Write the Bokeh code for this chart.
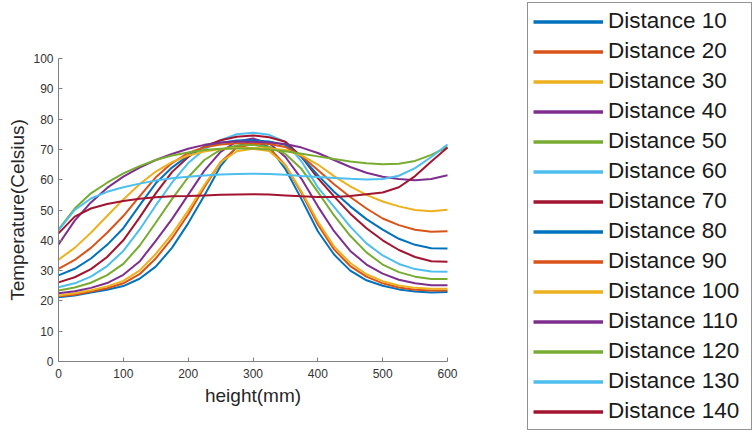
from bokeh.plotting import figure
from bokeh.models import Range1d, Legend, LegendItem
from bokeh.embed import file_html
from bokeh.resources import INLINE

height_mm = list(range(0, 601, 25))
x_ticks = [0, 100, 200, 300, 400, 500, 600]
y_ticks = [0, 10, 20, 30, 40, 50, 60, 70, 80, 90, 100]
distances = [10, 20, 30, 40, 50, 60, 70, 80, 90, 100, 110, 120, 130, 140]

t_d10 = [21.2, 21.8, 22.8, 23.7, 24.9, 27.3, 31.3, 37.5, 45.6, 54.8, 64.5, 71.0, 72.8,
         70.8, 63.5, 53.5, 43.0, 35.3, 30.0, 26.8, 25.0, 23.8, 23.1, 22.8, 22.9]
t_d20 = [21.5, 22.0, 23.1, 24.2, 25.8, 28.8, 34.0, 40.6, 48.5, 57.5, 65.8, 70.6, 71.7,
         70.5, 64.8, 55.5, 45.2, 37.0, 31.5, 28.0, 25.8, 24.4, 23.7, 23.4, 23.4]
t_d30 = [21.8, 22.5, 23.5, 24.8, 26.6, 30.0, 35.5, 42.0, 49.8, 58.2, 65.8, 69.4, 70.2,
         69.5, 64.8, 56.0, 46.2, 38.0, 32.5, 28.8, 26.5, 25.1, 24.3, 24.0, 24.0]
t_d40 = [22.5, 23.2, 24.3, 25.9, 28.6, 33.0, 39.8, 47.0, 55.0, 63.0, 69.2, 72.6, 73.6,
         72.0, 67.5, 60.2, 51.2, 43.0, 36.5, 32.0, 29.0, 27.0, 25.8, 25.2, 25.2]
t_d50 = [23.4, 24.4, 26.0, 28.5, 32.2, 38.2, 45.8, 53.6, 60.8, 66.5, 69.9, 71.3, 71.5,
         70.8, 68.5, 63.5, 56.0, 48.2, 41.5, 36.0, 32.0, 29.5, 28.0, 27.2, 27.2]
t_d60 = [24.5, 25.8, 28.0, 31.5, 36.5, 43.5, 51.5, 59.0, 65.5, 70.0, 73.0, 75.0, 75.5,
         74.8, 72.5, 66.0, 57.5, 51.0, 44.5, 39.0, 35.0, 32.2, 30.5, 29.7, 29.6]
t_d70 = [26.1, 27.8, 30.5, 34.5, 40.0, 47.5, 55.5, 62.5, 67.5, 71.0, 73.0, 74.2, 74.6,
         74.0, 72.5, 67.5, 60.5, 54.5, 48.8, 44.0, 40.0, 36.8, 34.5, 33.1, 32.9]
t_d80 = [28.4, 30.6, 34.0, 38.5, 44.0, 51.5, 58.8, 64.0, 68.0, 70.8, 72.2, 72.9, 73.0,
         72.6, 71.5, 67.5, 61.5, 56.0, 51.2, 47.0, 43.5, 40.5, 38.5, 37.4, 37.3]
t_d90 = [30.6, 33.5, 37.5, 42.5, 48.0, 54.5, 60.8, 65.5, 68.8, 70.7, 71.6, 72.0, 72.0,
         71.8, 70.8, 67.8, 63.2, 58.5, 54.3, 50.5, 47.2, 45.0, 43.5, 42.8, 43.0]
t_d100 = [33.6, 37.5, 42.5, 48.0, 53.5, 58.5, 62.7, 65.8, 68.0, 69.3, 70.1, 70.5, 70.5,
          70.3, 69.8, 68.0, 65.0, 61.2, 57.8, 55.0, 52.8, 51.2, 50.0, 49.6, 50.1]
t_d110 = [38.6, 46.5, 52.5, 57.3, 61.0, 64.0, 66.5, 68.5, 70.2, 71.5, 72.3, 72.6, 72.5,
          72.3, 71.8, 70.6, 68.8, 66.5, 64.2, 62.3, 61.0, 60.2, 59.8, 60.2, 61.5]
t_d120 = [43.5, 50.5, 55.5, 59.0, 62.1, 64.5, 66.5, 68.0, 69.0, 69.8, 70.2, 70.3, 70.3,
          70.0, 69.4, 68.6, 67.7, 66.8, 66.0, 65.4, 65.1, 65.3, 66.2, 68.2, 70.8]
t_d130 = [43.3, 50.0, 53.8, 56.0, 57.5, 58.7, 59.7, 60.5, 61.0, 61.4, 61.7, 61.9, 62.0,
          61.9, 61.6, 61.2, 60.9, 60.6, 60.3, 60.1, 60.2, 61.3, 63.8, 67.5, 71.6]
t_d140 = [42.3, 47.8, 50.5, 52.0, 53.0, 53.7, 54.2, 54.5, 54.6, 54.8, 55.0, 55.1, 55.2,
          55.1, 54.8, 54.5, 54.3, 54.3, 54.6, 55.2, 55.8, 57.5, 61.2, 66.0, 70.6]

series = [t_d10, t_d20, t_d30, t_d40, t_d50, t_d60, t_d70,
          t_d80, t_d90, t_d100, t_d110, t_d120, t_d130, t_d140]
palette = ["#0072BD", "#D95319", "#EDB120", "#7E2F8E", "#77AC30", "#4DBEEE", "#A2142F"]

FONT = "Liberation Sans"

# canvas geometry (pixels): the frame covers the whole canvas, the axes sit at fixed places
W, H = 753, 434
AX_LEFT, AX_RIGHT = 58, 447      # pixel columns of x = 0 and x = 600
AX_BOTTOM, AX_TOP = 361, 58      # pixel rows of T = 0 and T = 100
X_MIN, X_MAX = x_ticks[0], x_ticks[-1]
Y_MIN, Y_MAX = y_ticks[0], y_ticks[-1]
kx = (X_MAX - X_MIN) / (AX_RIGHT - AX_LEFT)
ky = (Y_MAX - Y_MIN) / (AX_BOTTOM - AX_TOP)
x_range = Range1d(X_MIN - AX_LEFT * kx, X_MAX + (W - AX_RIGHT) * kx)
y_range = Range1d(Y_MIN - (H - AX_BOTTOM) * ky, Y_MAX + AX_TOP * ky)

p = figure(width=W, height=H, x_range=x_range, y_range=y_range,
           min_border_left=0, min_border_right=0, min_border_top=0, min_border_bottom=0,
           output_backend="svg", toolbar_location=None)
p.outline_line_color = None
p.xgrid.grid_line_color = None
p.ygrid.grid_line_color = None
p.background_fill_color = "white"
p.border_fill_color = "white"

for ax in (p.xaxis[0], p.yaxis[0]):
    ax.axis_line_color = "#808080"
    ax.major_tick_line_color = "#808080"
    ax.minor_tick_line_color = None
    ax.major_tick_in = 4
    ax.major_tick_out = 0
    ax.major_label_text_font = FONT
    ax.major_label_text_font_size = "12px"
    ax.major_label_text_color = "#333333"
    ax.axis_label_text_font = FONT
    ax.axis_label_text_font_size = "19px"
    ax.axis_label_text_font_style = "normal"
    ax.axis_label_text_color = "#262626"

p.xaxis.fixed_location = Y_MIN
p.yaxis.fixed_location = X_MIN
p.xaxis.bounds = (X_MIN, X_MAX)
p.yaxis.bounds = (Y_MIN, Y_MAX)
p.xaxis.ticker = x_ticks
p.yaxis.ticker = y_ticks
p.xaxis.major_label_standoff = 7
p.yaxis.major_label_standoff = 5
p.xaxis.axis_label_standoff = 4
p.yaxis.axis_label_standoff = 2
p.xaxis.axis_label = "height(mm)"
p.yaxis.axis_label = "Temperature(Celsius)"

for i, temps in enumerate(series):
    p.line(height_mm, temps, line_color=palette[i % len(palette)], line_width=2)

# legend samples: thicker lines on their own renderers, placed outside the visible range
items = []
for i, d in enumerate(distances):
    sample = p.line([-1000, -900], [-1000, -900], line_color=palette[i % len(palette)], line_width=3.5)
    items.append(LegendItem(label=f"Distance {d}", renderers=[sample]))

legend = Legend(items=items, location=(527, 4),
                padding=5, spacing=4, margin=0,
                glyph_width=70, glyph_height=25, label_height=25, label_width=138,
                label_standoff=5,
                label_text_font=FONT, label_text_font_size="22.5px", label_text_color="#1a1a1a",
                border_line_color="#262626", border_line_width=1,
                background_fill_color="white", background_fill_alpha=1.0)
p.add_layout(legend, "center")

open("out.html", "w").write(file_html(p, INLINE))
